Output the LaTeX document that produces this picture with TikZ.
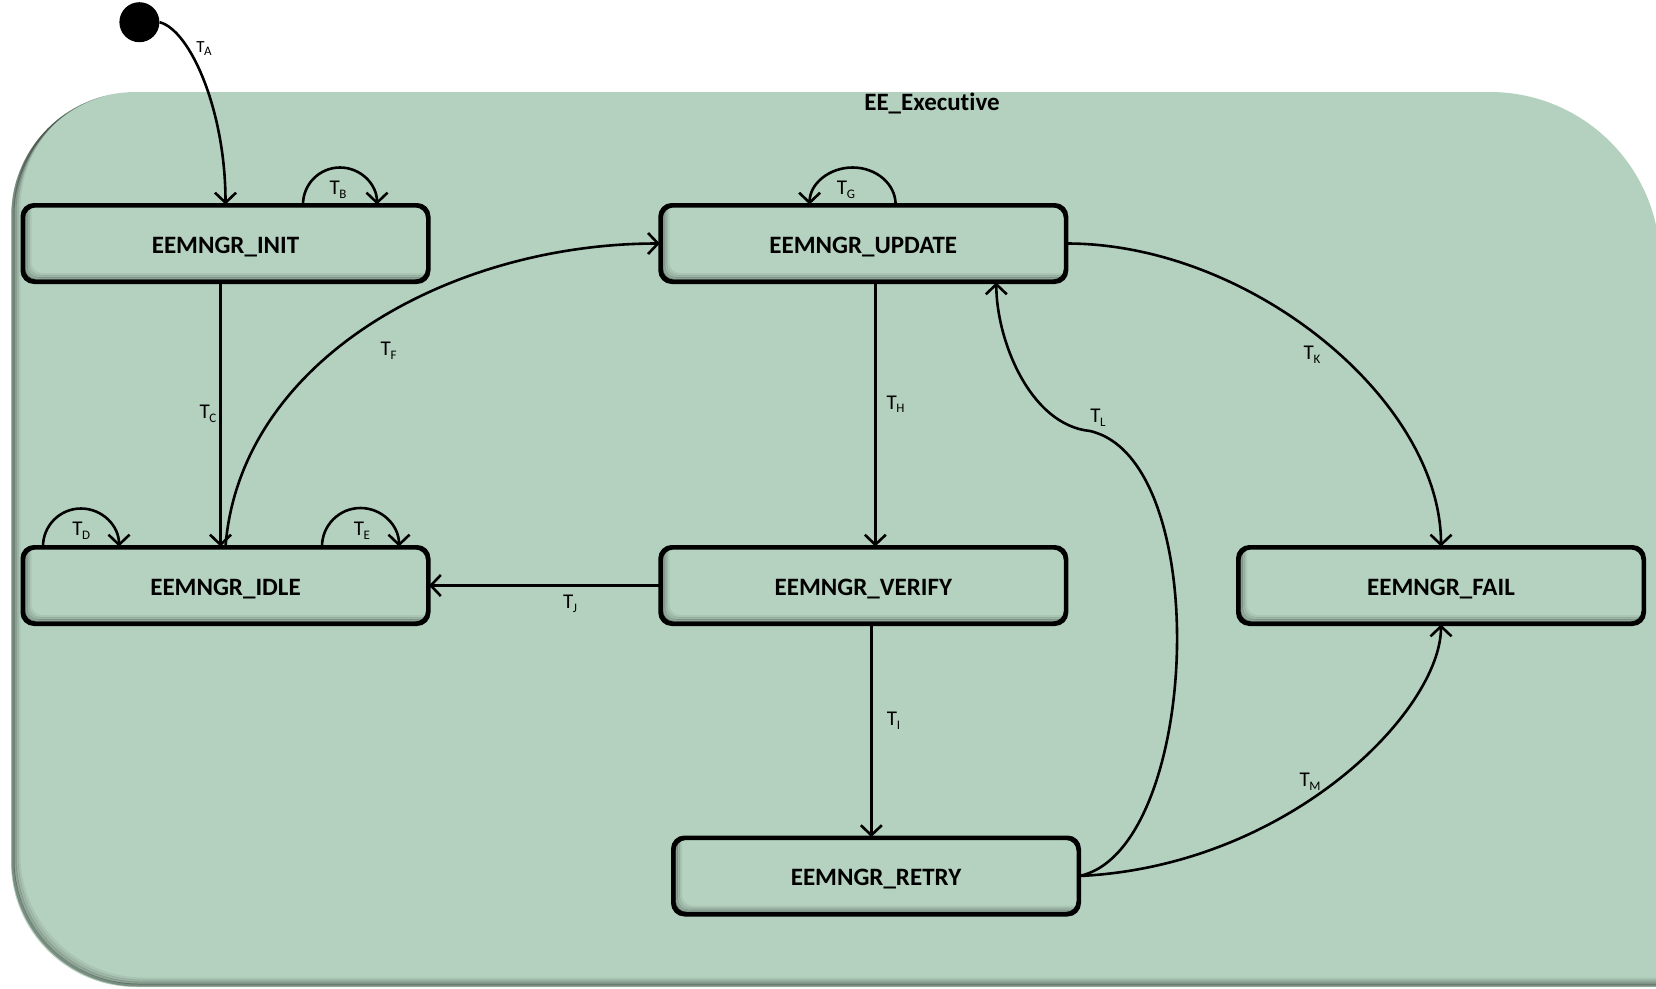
\documentclass[tikz,border=0pt]{standalone}
\usepackage{fontspec}
\setmainfont{Carlito}[Ligatures=NoCommon]
\usetikzlibrary{arrows.meta,calc}
\definecolor{panelfill}{RGB}{180,209,191}
\definecolor{boxfill}{RGB}{181,210,192}
% transition label: T with a lowered letter
\newcommand\trl[1]{T\kern-0.4pt\raisebox{-0.35ex}{\fontsize{13}{13}\selectfont #1}}
% soft inner shadow along the left and bottom edges of a rectangle
\newcommand\insetshade[3]{%
  \begin{scope}
    \clip[rounded corners=#3] (#1) rectangle (#2);
    \foreach \dd/\oo in {2/0.32,4/0.20,6/0.12,8/0.06}
      \draw[line width=3pt, black, opacity=\oo, rounded corners=#3]
        ([shift={(\dd,-\dd)}]#1) rectangle ([shift={(\dd,-\dd)}]#2);
  \end{scope}}
% outline of the enclosing composite state
\newcommand\panelpath{(11,217) arc[start angle=180, end angle=270, radius=125]
  -- (1490,92) arc[start angle=270, end angle=360, radius=170]
  -- (1660,987) -- (136,987) arc[start angle=90, end angle=180, radius=125] -- cycle}
\begin{document}
\begin{tikzpicture}[x=1pt,y=-1pt,
  state/.style={draw, line width=3pt, rounded corners=12pt,
    minimum width=404pt, minimum height=75pt, inner sep=0pt, fill=boxfill,
    text height=19.5pt, text depth=0pt,
    font=\fontsize{25}{30}\selectfont\bfseries},
  trans/.style={line width=2.6pt,
    -{Straight Barb[length=10pt,width=21pt,line width=2.6pt]}},
  tlabel/.style={font=\fontsize{21}{22}\selectfont, inner sep=0pt},
  outline/.style={line width=3pt, rounded corners=12pt}]
\useasboundingbox (0,0) rectangle (1656,988);
\clip (0,0) rectangle (1656,988);

% enclosing composite state
\fill[panelfill] \panelpath;
\begin{scope}
  \clip \panelpath;
  \foreach \dd/\oo in {2/0.32,4/0.20,6/0.12,8/0.06}
    \draw[line width=3pt, black, opacity=\oo, shift={(\dd,-\dd)}] \panelpath;
\end{scope}
\node[font=\fontsize{25}{30}\selectfont\bfseries] (title) at (932,103.5) {EE\_Executive};

% initial pseudo-state
\node[circle, fill=black, minimum size=40pt, inner sep=0pt] (start) at (139.4,22.2) {};

% states
\node[state] (init)   at (225.5,243.5) {EEMNGR\_INIT};
\node[state] (update) at (863.3,243.5) {EEMNGR\_UPDATE};
\node[state] (idle)   at (225.5,585.5) {EEMNGR\_IDLE};
\node[state] (verify) at (863.3,585.5) {EEMNGR\_VERIFY};
\node[state] (fail)   at (1441,585.5)  {EEMNGR\_FAIL};
\node[state] (retry)  at (876,876)     {EEMNGR\_RETRY};

\foreach \n in {init,update,idle,verify,fail,retry}{
  \insetshade{\n.south west}{\n.north east}{12pt}
  \draw[outline] (\n.south west) rectangle (\n.north east);
}

% transitions
\draw[trans] (start.east) .. controls (190,30) and (225.5,110) .. (init.north);
\draw[trans] ($(init.north)+(77.5,0)$) arc[start angle=180, end angle=360, radius=37];
\draw[trans] ($(init.south)+(-5,0)$) -- ($(idle.north)+(-5,0)$);
\draw[trans] ($(idle.north)+(-182.5,0)$) arc[start angle=180, end angle=360, radius=38];
\draw[trans] ($(idle.north)+(96.5,0)$) arc[start angle=180, end angle=360, radius=38.5];
\draw[trans] (idle.north) .. controls (240,360) and (450,243.5) .. (update.west);
\draw[trans] ($(update.north)+(32.3,0)$) arc[start angle=0, end angle=-180, x radius=43, y radius=37];
\draw[trans] ($(update.south)+(12,0)$) -- ($(verify.north)+(12,0)$);
\draw[trans] ($(verify.south)+(8,0)$) -- ($(retry.north)+(-4.7,0)$);
\draw[trans] (verify.west) -- (idle.east);
\draw[trans] (update.east) .. controls (1250,243.5) and (1441,400) .. (fail.north);
\coordinate (lbend) at (1090,431);
\draw[trans] (retry.east) .. controls (1200,850) and (1215,460) .. (lbend)
  .. controls (1030,425) and (996.3,340) .. ($(update.south)+(133,0)$);
\draw[trans] (retry.east) .. controls (1290,866) and (1441,710) .. (fail.south);

% transition labels
\node[tlabel, font=\fontsize{17}{18}\selectfont] (la) at (204,48.6) {\trl{A}};
\node[tlabel] (lb) at (338,190) {\trl{B}};
\node[tlabel] (lc) at (208,414) {\trl{C}};
\node[tlabel] (ld) at (81.3,531) {\trl{D}};
\node[tlabel] (le) at (362,531) {\trl{E}};
\node[tlabel] (lf) at (388.6,350.6) {\trl{F}};
\node[tlabel] (lg) at (846,190) {\trl{G}};
\node[tlabel] (lh) at (895.5,404.5) {\trl{H}};
\node[tlabel] (li) at (893.5,721) {\trl{I}};
\node[tlabel] (lj) at (570,604) {\trl{J}};
\node[tlabel] (lk) at (1312,355) {\trl{K}};
\node[tlabel] (ll) at (1098,418) {\trl{L}};
\node[tlabel] (lm) at (1310,782) {\trl{M}};
\end{tikzpicture}
\end{document}
